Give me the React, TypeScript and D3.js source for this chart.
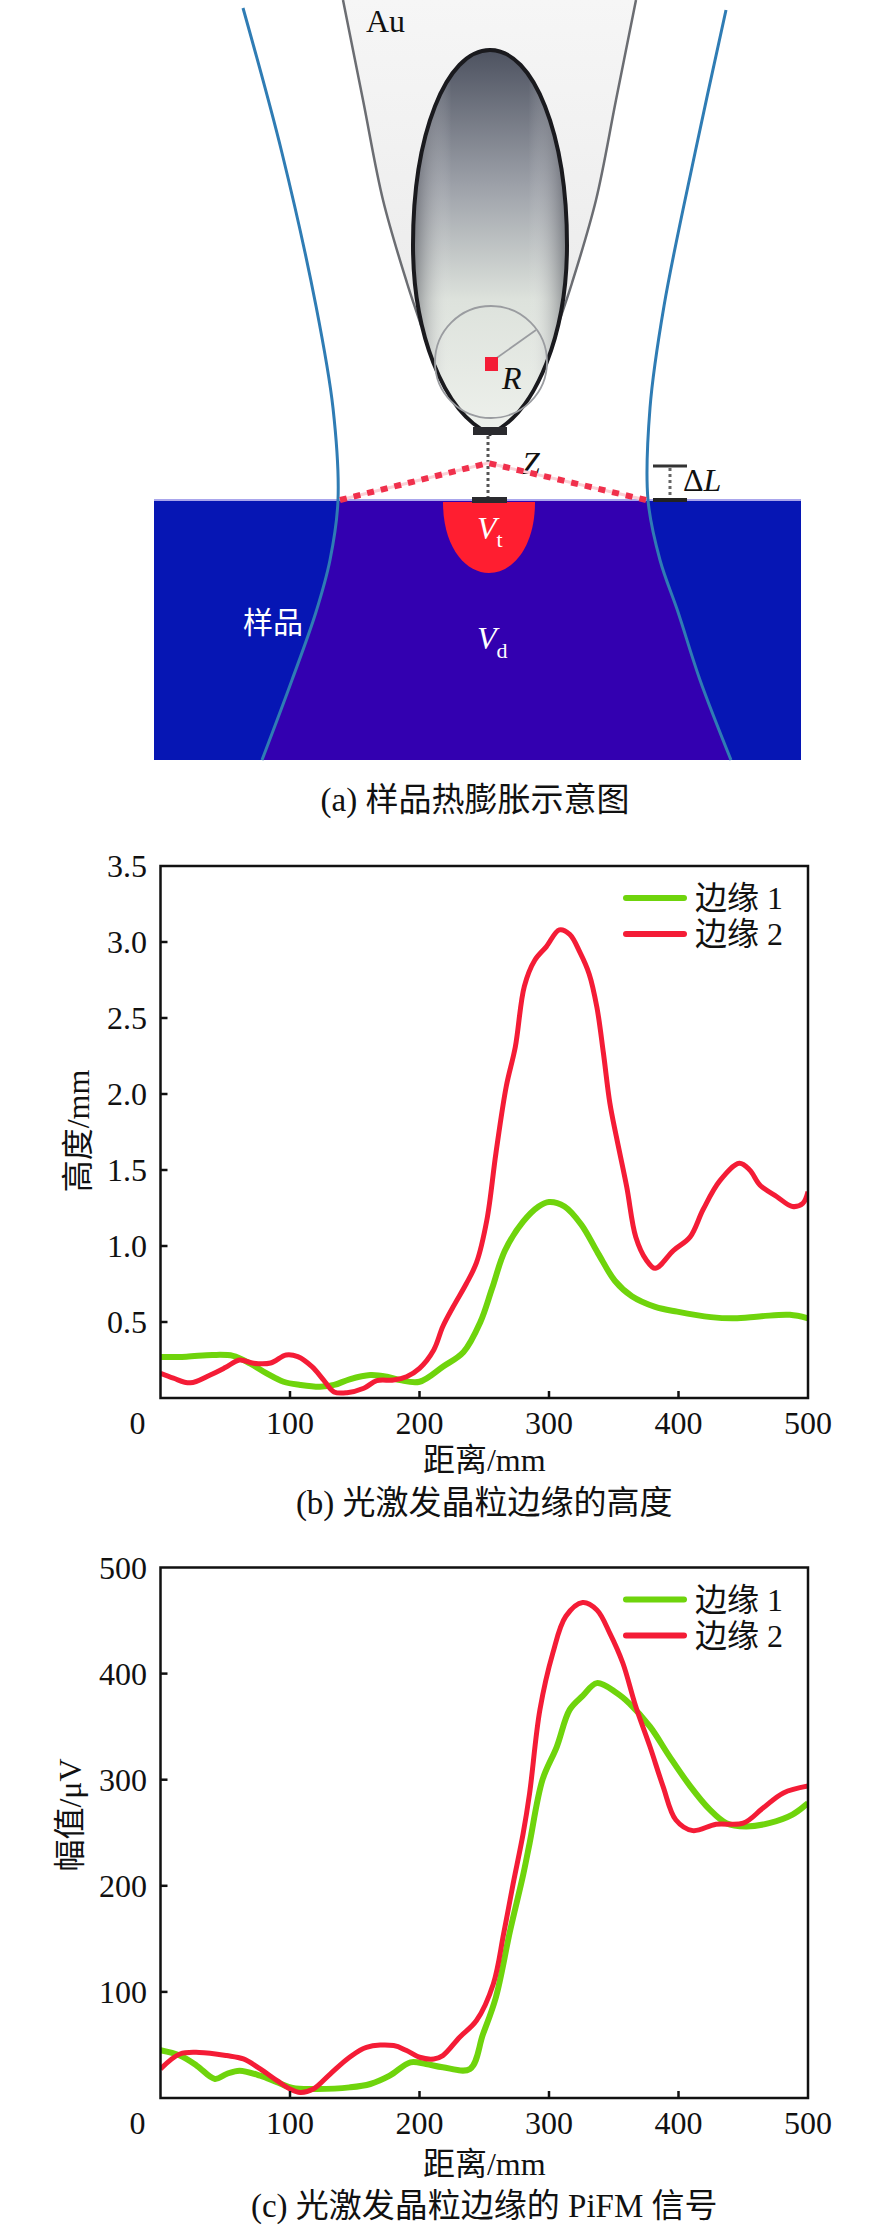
import * as d3 from "d3";

// (b) 光激发晶粒边缘的高度 — 读图估计
const heightEdge1X = [0, 20, 40, 56, 69, 82, 95, 108, 123, 134, 146, 162, 175, 185, 200, 218, 234, 247, 256, 266, 280, 292, 300, 312, 325, 338, 351, 364, 382, 399, 425, 443, 464, 486, 500];
const heightEdge1Y = [0.27, 0.272, 0.283, 0.277, 0.228, 0.162, 0.107, 0.086, 0.074, 0.086, 0.123, 0.151, 0.14, 0.118, 0.107, 0.206, 0.303, 0.5, 0.72, 0.97, 1.16, 1.26, 1.29, 1.26, 1.14, 0.95, 0.77, 0.67, 0.6, 0.568, 0.532, 0.524, 0.538, 0.547, 0.524];
const heightEdge2X = [0, 10, 23, 38, 50, 61, 72, 85, 97, 106, 117, 126, 134, 144, 157, 167, 180, 190, 200, 211, 218, 226, 236, 244, 252, 259, 267, 274, 281, 289, 298, 308, 316, 324, 331, 337, 342, 347, 352, 360, 367, 375, 382, 396, 409, 419, 432, 447, 455, 463, 476, 488, 496, 500];
const heightEdge2Y = [0.162, 0.13, 0.1, 0.15, 0.2, 0.25, 0.228, 0.23, 0.283, 0.272, 0.206, 0.118, 0.04, 0.035, 0.064, 0.114, 0.118, 0.14, 0.195, 0.316, 0.47, 0.6, 0.75, 0.89, 1.17, 1.61, 2.05, 2.31, 2.71, 2.88, 2.97, 3.08, 3.05, 2.93, 2.79, 2.57, 2.27, 1.94, 1.72, 1.39, 1.06, 0.91, 0.853, 0.97, 1.06, 1.24, 1.43, 1.544, 1.5, 1.4, 1.324, 1.26, 1.28, 1.357];

// (c) 光激发晶粒边缘的 PiFM 信号
const pifmEdge1X = [0, 15, 28, 42, 51, 61, 77, 90, 102, 121, 146, 162, 177, 193, 205, 218, 239, 249, 259, 270, 280, 285, 295, 306, 316, 326, 337, 352, 362, 378, 393, 409, 424, 437, 452, 470, 488, 500];
const pifmEdge1Y = [45, 40, 30.5, 18, 22.6, 25.8, 21, 14.8, 9.4, 8.5, 10, 13.2, 21, 33.6, 32, 29, 27.4, 60, 95, 158, 210, 240, 300, 331, 366, 379, 391, 382, 372, 350, 322, 294, 272, 259, 256, 259, 267, 278];
const pifmEdge2X = [0, 15, 30, 51, 64, 77, 90, 100, 108, 118, 131, 146, 159, 180, 190, 200, 211, 218, 231, 244, 257, 265, 272, 280, 285, 293, 303, 313, 326, 337, 347, 357, 367, 378, 388, 398, 411, 429, 450, 465, 481, 500];
const pifmEdge2Y = [27.4, 41.5, 43, 40, 36.8, 27.4, 16.4, 8.5, 5.3, 8.5, 22.6, 38.4, 47.8, 49.4, 44.7, 38.4, 36.8, 40, 57.3, 73, 107.5, 155, 200, 249, 287, 366, 419.5, 454, 467, 460, 438, 410, 369, 331, 294, 262, 252, 258, 259, 273, 287.5, 294];

const xTicks = [0, 100, 200, 300, 400, 500];
const heightTicks = [0.5, 1, 1.5, 2, 2.5, 3, 3.5];
const pifmTicks = [100, 200, 300, 400, 500];
const legendNames = ["边缘 1", "边缘 2"];

const GREEN = "#6fd40c";
const RED = "#f41c36";
const FONT = "'Liberation Serif', 'Times New Roman', 'Noto Sans CJK SC', serif";

const toPts = (xs: number[], ys: number[]) => xs.map((x, i) => [x, ys[i]] as [number, number]);

function Panel(props: {
  id: string; top: number; bottom: number; yMax: number; yTicks: number[];
  fmt: (v: number) => string; yLabel: string; yLabelX: number; yLabelY: number;
  e1: [number, number][]; e2: [number, number][];
  titleY: number; caption: string; captionY: number;
}) {
  const { id, top, bottom, yMax, yTicks, fmt, yLabel, yLabelX, yLabelY, e1, e2, titleY, caption, captionY } = props;
  const x = d3.scaleLinear().domain([0, 500]).range([160.5, 808]);
  const y = d3.scaleLinear().domain([0, yMax]).range([bottom, top]);
  const line = d3.line<[number, number]>()
    .x(d => x(d[0]))
    .y(d => y(d[1]))
    .curve(d3.curveCatmullRom.alpha(0.5));
  const [x0, x1] = x.range();
  return (
    <g>
      <defs>
        <clipPath id={id}>
          <rect x={x0} y={top} width={x1 - x0} height={bottom - top} />
        </clipPath>
      </defs>
      <g clipPath={`url(#${id})`}>
        <path d={line(e1) || ""} fill="none" stroke={GREEN} strokeWidth={6} strokeLinejoin="round" />
        <path d={line(e2) || ""} fill="none" stroke={RED} strokeWidth={5} strokeLinejoin="round" />
      </g>
      <rect x={x0} y={top} width={x1 - x0} height={bottom - top} fill="none" stroke="#111" strokeWidth={2.5} />
      {xTicks.filter(t => t > 0 && t < 500).map(t => (
        <line key={t} x1={x(t)} x2={x(t)} y1={bottom} y2={bottom - 7} stroke="#111" strokeWidth={2.5} />
      ))}
      {yTicks.filter(t => t < yMax).map(t => (
        <line key={t} x1={x0} x2={x0 + 7} y1={y(t)} y2={y(t)} stroke="#111" strokeWidth={2.5} />
      ))}
      {xTicks.map(t => (
        <text key={t} x={t === 0 ? x(t) - 23 : x(t)} y={bottom + 25} textAnchor="middle" dominantBaseline="central" fontSize={32}>{t}</text>
      ))}
      {yTicks.map(t => (
        <text key={t} x={147} y={y(t)} textAnchor="end" dominantBaseline="central" fontSize={32}>{fmt(t)}</text>
      ))}
      <text transform={`translate(${yLabelX},${yLabelY}) rotate(-90)`} textAnchor="middle" dominantBaseline="central" fontSize={32}>{yLabel}</text>
      <text x={(x0 + x1) / 2} y={titleY} textAnchor="middle" dominantBaseline="central" fontSize={32}>距离/mm</text>
      <text x={(x0 + x1) / 2} y={captionY} textAnchor="middle" dominantBaseline="central" fontSize={33}>{caption}</text>
      {[GREEN, RED].map((c, i) => (
        <g key={c}>
          <line x1={626} x2={684} y1={top + 32 + i * 36} y2={top + 32 + i * 36} stroke={c} strokeWidth={6} strokeLinecap="round" />
          <text x={695} y={top + 32 + i * 36} dominantBaseline="central" fontSize={32}>{legendNames[i]}</text>
        </g>
      ))}
    </g>
  );
}

// 示意图轮廓点
const leftBlue: [number, number][] = [[243, 8], [282, 153], [316, 306], [333, 408], [338, 500], [330, 560], [316, 612], [292, 680], [262, 760]];
const rightBlue: [number, number][] = [[726, 10], [695, 153], [664, 306], [650, 408], [648, 500], [660, 560], [678, 612], [700, 680], [731, 760]];
const coneLeft: [number, number][] = [[343, 0], [363, 100], [383, 200], [407, 283], [421, 325]];
const coneRight: [number, number][] = [[636, 0], [616, 100], [596, 200], [572, 283], [558, 325]];

function Diagram() {
  const smooth = d3.line<[number, number]>().curve(d3.curveCatmullRom.alpha(0.5));
  const below = (pts: [number, number][]) => pts.filter(p => p[1] >= 500);
  const purpleD = smooth(below(leftBlue))! + "L" + below(rightBlue).slice().reverse().map(p => p.join(",")).join("L") + "Z";
  const coneD = smooth(coneLeft)! + "L" + coneRight.slice().reverse().map(p => p.join(",")).join("L") + "Z";
  const tip = "M490,50 C446,50 413,135 413,245 C413,330 442,412 490,434 C538,412 567,330 567,245 C567,135 534,50 490,50 Z";
  return (
    <g>
      <defs>
        <linearGradient id="tipV" x1="0" y1="0" x2="0" y2="1">
          <stop offset="0%" stopColor="#4d5260" />
          <stop offset="35%" stopColor="#9ca0a8" />
          <stop offset="65%" stopColor="#dde2dc" />
          <stop offset="100%" stopColor="#eef1ec" />
        </linearGradient>
        <linearGradient id="tipH" x1="0" y1="0" x2="1" y2="0">
          <stop offset="0%" stopColor="#40424c" stopOpacity={0.55} />
          <stop offset="25%" stopColor="#ffffff" stopOpacity={0} />
          <stop offset="75%" stopColor="#ffffff" stopOpacity={0} />
          <stop offset="100%" stopColor="#40424c" stopOpacity={0.55} />
        </linearGradient>
        <linearGradient id="cone" x1="0" y1="0" x2="0" y2="1">
          <stop offset="0%" stopColor="#f6f6f6" />
          <stop offset="100%" stopColor="#ebebeb" />
        </linearGradient>
      </defs>
      {/* Au 针尖外壳 */}
      <path d={coneD} fill="url(#cone)" />
      <path d={smooth(coneLeft) || ""} fill="none" stroke="#6b6d72" strokeWidth={2.5} />
      <path d={smooth(coneRight) || ""} fill="none" stroke="#6b6d72" strokeWidth={2.5} />
      <text x={366} y={32} fontSize={32}>Au</text>
      {/* 样品 */}
      <rect x={154} y={500} width={647} height={260} fill="#0616b4" />
      <path d={purpleD} fill="#3300b0" />
      <line x1={154} x2={801} y1={500} y2={500} stroke="#a9a6ec" strokeWidth={2} />
      <path d="M443,502 C443,548 466,573 489,573 C512,573 535,548 535,502 Z" fill="#ff1e30" />
      <path d={smooth(leftBlue) || ""} fill="none" stroke="#2f7cb4" strokeWidth={3} />
      <path d={smooth(rightBlue) || ""} fill="none" stroke="#2f7cb4" strokeWidth={3} />
      {/* 针尖 */}
      <path d={tip} fill="url(#tipV)" />
      <path d={tip} fill="url(#tipH)" stroke="#1a1a1e" strokeWidth={4} />
      <circle cx={491} cy={362} r={56} fill="none" stroke="#9a9ca0" strokeWidth={1.8} />
      <line x1={491} y1={362} x2={536} y2={330} stroke="#9a9ca0" strokeWidth={1.8} />
      <rect x={485} y={357} width={13} height={14} fill="#f41c36" />
      <text x={502} y={389} fontSize={32} fontStyle="italic">R</text>
      <rect x={473} y={427} width={34} height={8} fill="#2a2a2e" />
      {/* 间距 Z */}
      <line x1={488} x2={488} y1={436} y2={498} stroke="#555" strokeWidth={3} strokeDasharray="3 3" />
      <rect x={472} y={497} width={35} height={6} fill="#2a2a2e" />
      <text x={522} y={474} fontSize={32} fontStyle="italic">Z</text>
      <path d="M340,500 L488,463 L646,500" fill="none" stroke="#fbd0d6" strokeWidth={3} />
      <path d="M340,500 L488,463 L646,500" fill="none" stroke="#f0304c" strokeWidth={6} strokeDasharray="7 7" />
      {/* ΔL */}
      <line x1={653} x2={687} y1={466} y2={466} stroke="#333" strokeWidth={3} />
      <line x1={670} x2={670} y1={468} y2={498} stroke="#666" strokeWidth={3} strokeDasharray="3 3" />
      <line x1={653} x2={687} y1={500} y2={500} stroke="#222" strokeWidth={4} />
      <text x={683} y={491} fontSize={32}>Δ<tspan fontStyle="italic">L</tspan></text>
      <text x={477} y={539} fontSize={32} fontStyle="italic" fill="#fff">V<tspan fontSize={22} fontStyle="normal" dy={8}>t</tspan></text>
      <text x={477} y={649} fontSize={32} fontStyle="italic" fill="#fff">V<tspan fontSize={22} fontStyle="normal" dy={9}>d</tspan></text>
      <text x={243} y={633} fontSize={30} fill="#fff">样品</text>
      <text x={475} y={800} textAnchor="middle" dominantBaseline="central" fontSize={33}>(a) 样品热膨胀示意图</text>
    </g>
  );
}

export default function App() {
  return (
    <svg width={886} height={2227} style={{ position: "absolute", left: 0, top: 0, background: "#fff" }} fontFamily={FONT} fill="#111">
      <Diagram />
      <Panel
        id="clipB" top={866} bottom={1398} yMax={3.5} yTicks={heightTicks} fmt={d3.format(".1f")}
        yLabel="高度/mm" yLabelX={78} yLabelY={1131}
        e1={toPts(heightEdge1X, heightEdge1Y)} e2={toPts(heightEdge2X, heightEdge2Y)}
        titleY={1460} caption="(b) 光激发晶粒边缘的高度" captionY={1503}
      />
      <Panel
        id="clipC" top={1567.5} bottom={2098} yMax={500} yTicks={pifmTicks} fmt={d3.format("d")}
        yLabel="幅值/μV" yLabelX={70} yLabelY={1815}
        e1={toPts(pifmEdge1X, pifmEdge1Y)} e2={toPts(pifmEdge2X, pifmEdge2Y)}
        titleY={2164} caption="(c) 光激发晶粒边缘的 PiFM 信号" captionY={2206}
      />
    </svg>
  );
}
